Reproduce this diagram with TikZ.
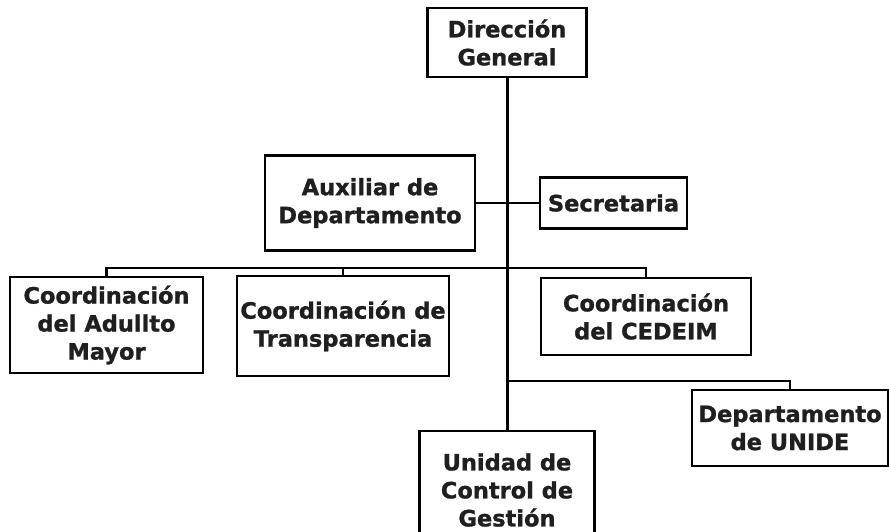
\documentclass[tikz,border=0pt]{standalone}
\usepackage{fontspec}
\setmainfont{DejaVu Sans}[BoldFeatures={FakeBold=1.2}]
\usepackage{tikz}
\usetikzlibrary{positioning}
\tikzset{
  orgbox/.style={draw, line width=2.4pt, align=center, inner sep=2pt, text=black!88, font=\fontsize{22.5}{28}\selectfont\bfseries},
  trunk/.style={line width=3pt},
  branch/.style={line width=2.2pt}
}
\begin{document}
\begin{tikzpicture}[x=1pt, y=-1pt]
  \useasboundingbox (0,0) rectangle (889,531);
  \node[orgbox, minimum width=159pt, minimum height=69pt] (dir) at (507,42.5) {Dirección\\General};
  \node[orgbox, minimum width=210pt, minimum height=95pt] (aux) at (370,203) {Auxiliar de\\Departamento};
  \node[orgbox, minimum width=147pt, minimum height=51pt] (sec) at (613.5,203) {Secretaria};
  \node[orgbox, minimum width=193pt, minimum height=96pt] (adu) at (106.5,325) {Coordinación\\del Adullto\\Mayor};
  \node[orgbox, minimum width=212pt, minimum height=100pt] (tra) at (343,326) {Coordinación de\\Transparencia};
  \node[orgbox, minimum width=210pt, minimum height=77pt] (ced) at (646,316.5) {Coordinación\\del CEDEIM};
  \node[orgbox, minimum width=196pt, minimum height=76pt] (unide) at (790,428) {Departamento\\de UNIDE};
  \node[orgbox, minimum width=175pt, minimum height=118pt] (ugc) at (507,490) {Unidad de\\Control de\\Gestión};

  \coordinate (bus1) at (507,268);
  \coordinate (bus2) at (507,381);

  \draw[trunk] (dir) -- (ugc);
  \draw[branch] (aux) -- (sec);
  \draw[branch] (adu.north) |- (bus1);
  \draw[branch] (tra.north) |- (bus1);
  \draw[branch] (ced.north) |- (bus1);
  \draw[branch] (unide.north) |- (bus2);
\end{tikzpicture}
\end{document}
